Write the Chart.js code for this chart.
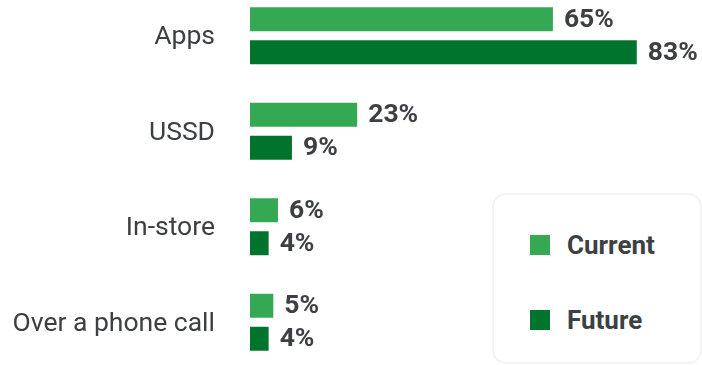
<!DOCTYPE html>
<html>
<head>
<meta charset="utf-8">
<script src="https://cdn.jsdelivr.net/npm/chart.js@4/dist/chart.umd.min.js"></script>
<style>
  html, body { margin: 0; padding: 0; background: #ffffff; overflow: hidden; }
  body { width: 702px; height: 365px; position: relative; }
  #chart { position: absolute; left: 0; top: -12px; width: 702px; height: 382px; }
  #legend {
    position: absolute; left: 492px; top: 193px; width: 206px; height: 167px;
    border: 2px solid #f1f3f4; border-radius: 14px; background: #ffffff;
    font-family: Roboto, "Noto Sans", sans-serif; font-weight: 700; font-size: 26px; color: #3c4043;
  }
  .item { position: absolute; left: 36px; height: 30px; display: flex; align-items: center; }
  .swatch { width: 20px; height: 20px; margin-right: 17px; }
</style>
</head>
<body>
<canvas id="chart" width="702" height="382"></canvas>
<div id="legend"></div>
<script>
// Payment channels: share of respondents using each channel now vs. later
const categories = ["Apps", "USSD", "In-store", "Over a phone call"];
const currentValues = [65, 23, 6, 5];
const futureValues = [83, 9, 4, 4];
const seriesNames = ["Current", "Future"];
const seriesColors = ["#34a853", "#00742c"];

const textColor = "#3c4043";
const fontFamily = "Roboto, 'Noto Sans', sans-serif";

// Writes "NN%" just past the end of each bar
const valueLabels = {
  id: "valueLabels",
  afterDatasetsDraw(chart) {
    const ctx = chart.ctx;
    ctx.save();
    ctx.font = "bold 26.5px " + fontFamily;
    ctx.fillStyle = textColor;
    ctx.textAlign = "left";
    ctx.textBaseline = "middle";
    chart.data.datasets.forEach((ds, di) => {
      chart.getDatasetMeta(di).data.forEach((bar, i) => {
        ctx.fillText(ds.data[i] + "%", bar.x + 11, bar.y + 1);
      });
    });
    ctx.restore();
  }
};

const chart = new Chart(document.getElementById("chart"), {
  type: "bar",
  data: {
    labels: categories,
    datasets: [
      { label: seriesNames[0], data: currentValues, backgroundColor: seriesColors[0] },
      { label: seriesNames[1], data: futureValues, backgroundColor: seriesColors[1] }
    ]
  },
  options: {
    indexAxis: "y",
    responsive: false,
    animation: false,
    layout: { padding: 0 },
    categoryPercentage: 0.691,
    barPercentage: 0.727,
    plugins: { legend: { display: false }, tooltip: { enabled: false } },
    scales: {
      x: { display: false, min: 0, max: 97 },
      y: {
        grid: { display: false, drawTicks: false },
        border: { display: false },
        ticks: {
          color: textColor,
          padding: 35,
          labelOffset: 2,
          font: { family: fontFamily, size: 26.5 }
        },
        afterFit(scale) {
          // fixed label column; no extra vertical room for the first/last label
          scale.width = 250;
          scale.paddingTop = 0;
          scale.paddingBottom = 0;
        }
      }
    }
  },
  plugins: [valueLabels]
});

// Legend panel built from the chart's datasets
const legend = document.getElementById("legend");
const rowTops = [35, 110];
chart.data.datasets.forEach((ds, i) => {
  const item = document.createElement("div");
  item.className = "item";
  item.style.top = rowTops[i] + "px";
  const sw = document.createElement("span");
  sw.className = "swatch";
  sw.style.background = ds.backgroundColor;
  const tx = document.createElement("span");
  tx.textContent = ds.label;
  item.appendChild(sw);
  item.appendChild(tx);
  legend.appendChild(item);
});
</script>
</body>
</html>
